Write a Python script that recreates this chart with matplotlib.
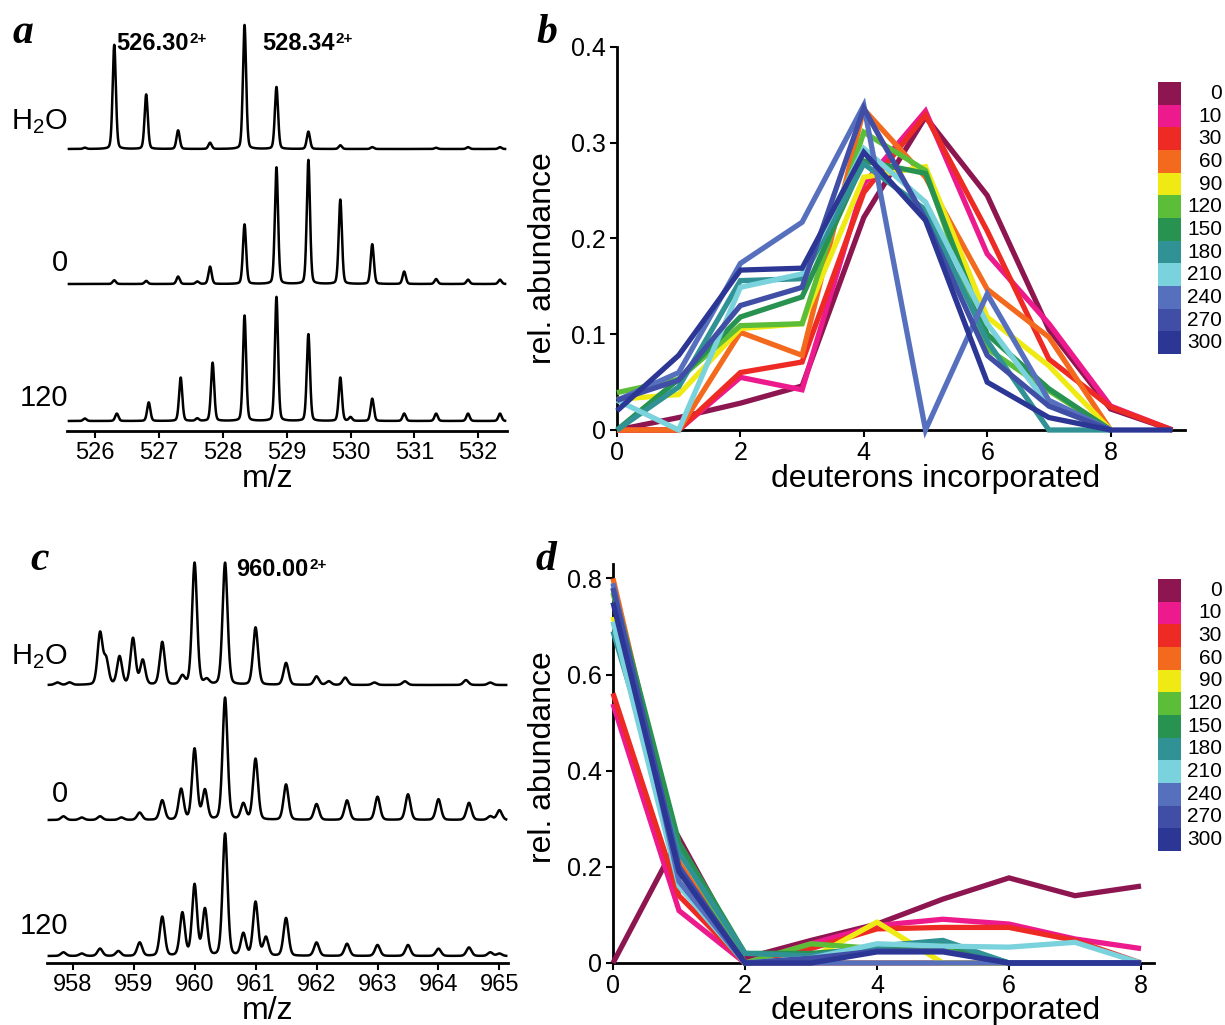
import numpy as np
import matplotlib
matplotlib.use("Agg")
import matplotlib.pyplot as plt
from matplotlib.patches import Rectangle

plt.rcParams["font.family"] = ["Liberation Sans", "DejaVu Sans"]
plt.rcParams["mathtext.fontset"] = "custom"
plt.rcParams["mathtext.rm"] = "Liberation Sans"
plt.rcParams["mathtext.bf"] = "Liberation Sans:bold"
plt.rcParams["mathtext.it"] = "Liberation Sans:italic"

W, H = 1225, 1025

# ---- peptide 526/528 spectra: peak centres (m/z) and relative heights (%)
mz_a_h2o = [525.84, 526.30, 526.80, 527.30, 527.80, 528.34, 528.84, 529.34, 529.84,
            530.34, 531.34, 531.84, 532.34]
int_a_h2o = [1, 84, 44, 15, 5, 100, 50, 14, 3, 1.5, 1, 1.5, 1.5]
mz_a_0 = [526.30, 526.80, 527.30, 527.60, 527.80, 528.34, 528.84, 529.34, 529.84,
          530.34, 530.84, 531.34, 531.84, 532.34]
int_a_0 = [3, 2.5, 6, 2, 14, 48, 94, 100, 68, 32, 10, 4, 3.5, 3.5]
mz_a_120 = [525.84, 526.34, 526.84, 527.34, 527.60, 527.84, 528.34, 528.84, 529.34,
            529.84, 530.00, 530.34, 530.84, 531.34, 531.84, 532.34]
int_a_120 = [2, 6, 15, 35, 2, 47, 85, 100, 70, 35, 3, 18, 6, 6, 6, 6]

# ---- peptide 960 spectra
mz_c_h2o = [957.75, 957.95, 958.45, 958.55, 958.77, 958.99, 959.15, 959.47, 959.80,
            960.00, 960.20, 960.50, 961.00, 961.50, 962.00, 962.20, 962.47, 962.95,
            963.45, 964.45, 964.85]
int_c_h2o = [2, 2, 42, 20, 23, 38, 20, 35, 7, 100, 4, 100, 47, 18, 7, 3, 6, 2, 3, 4, 2]
mz_c_0 = [957.85, 958.15, 958.45, 958.80, 959.10, 959.47, 959.78, 960.00, 960.17,
          960.50, 960.80, 961.00, 961.50, 962.00, 962.50, 963.00, 963.50, 964.00,
          964.50, 964.85, 965.00]
int_c_0 = [3, 2, 3, 2, 6, 16, 25, 58, 24, 100, 13, 50, 29, 13, 16, 19, 21, 17, 14, 3, 8]
mz_c_120 = [957.85, 958.15, 958.45, 958.75, 959.10, 959.47, 959.80, 960.00, 960.17,
            960.50, 960.80, 961.00, 961.17, 961.50, 962.00, 962.50, 963.00, 963.50,
            964.00, 964.50, 964.85, 965.00]
int_c_120 = [3, 2, 6, 4, 11, 32, 35, 58, 38, 100, 18, 44, 15, 31, 11, 10, 9, 9, 6, 7, 3, 2]

# ---- deuteron incorporation distributions, one list per labelling time (s)
times = [0, 10, 30, 60, 90, 120, 150, 180, 210, 240, 270, 300]
colors = ["#8E1650", "#EC1A8C", "#EE2A24", "#F36A1E", "#F0EA14", "#5CBE38",
          "#289250", "#309294", "#7AD2DC", "#5670BE", "#404EA6", "#2C3694"]

b_0 = [0, 0.013, 0.028, 0.046, 0.222, 0.327, 0.245, 0.105, 0.022, 0]
b_10 = [0, 0, 0.055, 0.042, 0.257, 0.333, 0.184, 0.111, 0.025, 0]
b_30 = [0, 0, 0.060, 0.071, 0.248, 0.329, 0.208, 0.074, 0.024, 0]
b_60 = [0, 0, 0.102, 0.078, 0.335, 0.264, 0.147, 0.097, 0]
b_90 = [0.032, 0.037, 0.106, 0.111, 0.264, 0.275, 0.118, 0.067, 0]
b_120 = [0.039, 0.053, 0.109, 0.111, 0.311, 0.271, 0.085, 0.041, 0]
b_150 = [0, 0.053, 0.118, 0.139, 0.281, 0.268, 0.100, 0.043, 0]
b_180 = [0, 0.045, 0.156, 0.158, 0.278, 0.230, 0.093, 0, 0]
b_210 = [0.031, 0, 0.149, 0.163, 0.294, 0.238, 0.111, 0.025, 0]
b_240 = [0.031, 0.060, 0.174, 0.217, 0.339, 0, 0.142, 0.031, 0]
b_270 = [0.031, 0.052, 0.130, 0.149, 0.336, 0.220, 0.078, 0.025, 0]
b_300 = [0.020, 0.078, 0.167, 0.169, 0.290, 0.219, 0.050, 0.013, 0, 0]

d_0 = [0, 0.26, 0.01, 0.047, 0.081, 0.133, 0.177, 0.140, 0.160]
d_10 = [0.539, 0.109, 0, 0.040, 0.078, 0.091, 0.081, 0.050, 0.030]
d_30 = [0.561, 0.140, 0, 0.030, 0.071, 0.074, 0.074, 0.047, 0]
d_60 = [0.800, 0.210, 0, 0, 0, 0, 0, 0, 0]
d_90 = [0.720, 0.170, 0, 0.010, 0.085, 0, 0, 0, 0]
d_120 = [0.770, 0.240, 0, 0.040, 0.030, 0.035, 0, 0, 0]
d_150 = [0.780, 0.250, 0.020, 0.020, 0.030, 0.040, 0, 0, 0]
d_180 = [0.690, 0.230, 0.020, 0.015, 0.035, 0.047, 0, 0, 0]
d_210 = [0.710, 0.160, 0, 0.010, 0.040, 0.035, 0.033, 0.043, 0]
d_240 = [0.790, 0.170, 0, 0, 0, 0, 0, 0, 0]
d_270 = [0.780, 0.200, 0, 0.010, 0.025, 0.025, 0, 0, 0]
d_300 = [0.750, 0.190, 0, 0, 0.023, 0.023, 0, 0, 0]

series_b = [b_0, b_10, b_30, b_60, b_90, b_120, b_150, b_180, b_210, b_240, b_270, b_300]
series_d = [d_0, d_10, d_30, d_60, d_90, d_120, d_150, d_180, d_210, d_240, d_270, d_300]


def fx(x):
    return x / W


def fy(y):
    return 1 - y / H


def box(x0, y0, x1, y1):
    # pixel box -> figure rect
    return [fx(x0), fy(y1), (x1 - x0) / W, (y1 - y0) / H]


def profile(x, centres, heights, sigma):
    # pseudo-Voigt line shape: mostly gaussian with a little lorentzian tail
    y = np.zeros_like(x)
    for c, h in zip(centres, heights):
        u = (x - c) / sigma
        y += h * (0.75 * np.exp(-0.5 * u ** 2) + 0.25 / (1 + u ** 2))
    return y


fig = plt.figure(figsize=(W / 100, H / 100), dpi=100)


def spectra_panel(rect, xlim, ticks, traces, offsets, scale, sigma, ytop):
    ax = fig.add_axes(rect)
    x = np.linspace(xlim[0] + 0.03, xlim[1] - 0.03, 4000)
    for (c, h), off in zip(traces, offsets):
        ax.plot(x, off + scale * profile(x, c, h, sigma), color="black", lw=1.8)
    ax.set_xlim(*xlim)
    ax.set_ylim(0, ytop)
    for s in ("left", "right", "top"):
        ax.spines[s].set_visible(False)
    ax.spines["bottom"].set_linewidth(2.0)
    ax.set_yticks([])
    ax.set_xticks(ticks)
    ax.set_xticklabels([str(t) for t in ticks])
    ax.tick_params(axis="x", direction="out", length=5, width=1.5, labelsize=17, pad=3)
    return ax


def abundance_panel(rect, series, xlim, ylim, yticks, ylabels, leg_rect):
    ax = fig.add_axes(rect)
    for ys, col in zip(series, colors):
        ax.plot(range(len(ys)), ys, color=col, lw=3.8, clip_on=False, zorder=3,
                solid_joinstyle="miter", solid_capstyle="butt")
    ax.set_xlim(*xlim)
    ax.set_ylim(*ylim)
    for s in ("right", "top"):
        ax.spines[s].set_visible(False)
    for s in ("left", "bottom"):
        ax.spines[s].set_linewidth(2.0)
    ax.set_xticks([0, 2, 4, 6, 8])
    ax.set_yticks(yticks)
    ax.set_yticklabels(ylabels)
    ax.tick_params(direction="out", length=5, width=1.5, labelsize=18, pad=3)

    lg = fig.add_axes(leg_rect)
    for i, col in enumerate(colors):
        lg.add_patch(Rectangle((0, i), 1, 1, facecolor=col, edgecolor="none"))
        lg.text(2.78, i + 0.5, str(times[i]), ha="right", va="center", fontsize=15)
    lg.set_xlim(0, 1)
    lg.set_ylim(len(colors), 0)
    lg.axis("off")
    return ax


# a: peptide 526.30 / 528.34
spectra_panel(box(67, 15, 507, 431), (525.56, 532.45), list(range(526, 533)),
              [(mz_a_h2o, int_a_h2o), (mz_a_0, int_a_0), (mz_a_120, int_a_120)],
              [282, 147, 10], 1.24, 0.026, 416)

# c: peptide 960.00
spectra_panel(box(47, 545, 508, 963), (957.58, 965.14), list(range(958, 966)),
              [(mz_c_h2o, int_c_h2o), (mz_c_0, int_c_0), (mz_c_120, int_c_120)],
              [278, 143, 7], 1.22, 0.042, 418)

# b, d: deuteron distributions
abundance_panel(box(617, 47, 617 + 9.2 * 61.7, 430), series_b, (0, 9.2), (0, 0.4),
                [0, 0.1, 0.2, 0.3, 0.4], ["0", "0.1", "0.2", "0.3", "0.4"],
                box(1158, 82, 1181, 354))
abundance_panel(box(613, 564, 613 + 8.2 * 66, 963), series_d, (0, 8.2), (0, 0.83),
                [0, 0.2, 0.4, 0.6, 0.8], ["0", "0.2", "0.4", "0.6", "0.8"],
                box(1158, 579, 1181, 851))

# panel letters
letter = dict(family="Liberation Serif", weight="bold", style="italic", fontsize=30,
              ha="center", va="center")
for ch, (px, py) in zip("abcd", [(23, 33), (547, 33), (40, 560), (546, 560)]):
    fig.text(fx(px), fy(py), ch, **letter)

# peak annotations: bold m/z with a small charge superscript
renderer = fig.canvas.get_renderer()
for txt, px, py in [("526.30", 116, 44), ("528.34", 262, 44), ("960.00", 236, 570)]:
    t = fig.text(fx(px), fy(py), txt, fontsize=17, weight="bold", ha="left", va="center")
    bb = t.get_window_extent(renderer)
    fig.text((bb.x1 + 1) / W, fy(py - 5), "2+", fontsize=11, weight="bold",
             ha="left", va="center")

# trace labels
for top in (0, 535):
    fig.text(fx(11), fy(122 + top), r"H$_2$O", fontsize=21, ha="left", va="center")
fig.text(fx(68), fy(263), "0", fontsize=21, ha="right", va="center")
fig.text(fx(68), fy(398), "120", fontsize=21, ha="right", va="center")
fig.text(fx(68), fy(794), "0", fontsize=21, ha="right", va="center")
fig.text(fx(68), fy(926), "120", fontsize=21, ha="right", va="center")

# axis titles
for y in (479, 1011):
    fig.text(fx(268), fy(y), "m/z", fontsize=23, ha="center", va="center")
    fig.text(fx(936), fy(y), "deuterons incorporated", fontsize=23, ha="center", va="center")
for y in (258, 757):
    fig.text(fx(543), fy(y), "rel. abundance", fontsize=23, ha="center", va="center",
             rotation=90)

fig.savefig("out.png", dpi=100)
